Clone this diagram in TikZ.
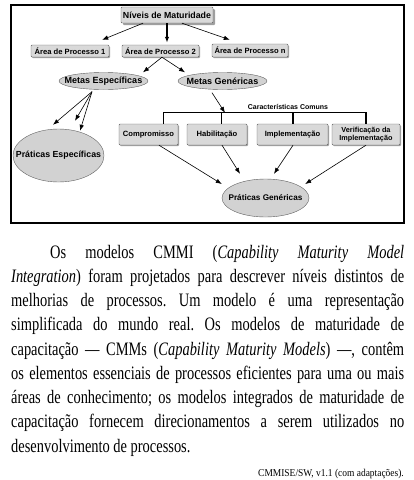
\documentclass[tikz,border=0pt]{standalone}
\usepackage{fontspec}
\setmainfont{Liberation Serif}[FakeStretch=0.76]
\newfontfamily\credfont{Liberation Serif}[FakeStretch=0.9]
\newfontfamily\diagfont{Liberation Sans}
\usetikzlibrary{calc,shapes.geometric,shadows,arrows.meta}

\begin{document}
\begin{tikzpicture}[x=1pt,y=-1pt,
	box/.style={draw=gray!75!black, fill=gray!30, rounded corners=1pt, inner sep=0pt, align=center},
	shd/.style={drop shadow={shadow xshift=#1, shadow yshift=-#1, fill=gray!75, opacity=1}},
	oval/.style={ellipse, draw=gray!75!black, fill=gray!35, inner sep=0pt},
	txt/.style={font=\diagfont\bfseries\fontsize{#1}{#1}\selectfont},
	arr/.style={line width=0.6pt, -{Latex[length=6pt,width=4.5pt]}}]
	\useasboundingbox (0,0) rectangle (414,480);
	\draw[line width=2pt] (11,5) rectangle (404,223);

	% top levels
	\node[box, shd=2pt, minimum width=92pt, minimum height=16pt, txt=8.8] (niv) at (167,15) {Níveis de Maturidade};
	\node[box, shd=1pt, minimum width=78pt, minimum height=12pt, txt=7.6] (ap1) at (70,51) {Área de Processo 1};
	\node[box, shd=1pt, minimum width=77pt, minimum height=12pt, txt=7.6] (ap2) at (160.5,51) {Área de Processo 2};
	\node[box, shd=1pt, minimum width=76pt, minimum height=13pt, txt=7.6] (apn) at (250,50.5) {Área de Processo n};
	\node[oval, minimum width=89pt, minimum height=17pt, txt=9] (me) at (103.5,81) {\makebox[0pt]{Metas Específicas}};
	\node[oval, minimum width=89pt, minimum height=17pt, txt=9] (mg) at (222.5,81) {\makebox[0pt]{Metas Genéricas}};
	\node[oval, minimum width=91pt, minimum height=53pt, txt=8.8] (pe) at (58.5,155.5) {\makebox[0pt]{Práticas Específicas}};

	% common features
	\node[box, shd=1pt, minimum width=59pt, minimum height=21pt, txt=7.6] (comp) at (148.5,134.5) {Compromisso};
	\node[box, shd=1pt, minimum width=60pt, minimum height=21pt, txt=7.6] (hab) at (217,134.5) {Habilitação};
	\node[box, shd=1pt, minimum width=71pt, minimum height=21pt, txt=7.6] (impl) at (292.5,134.5) {Implementação};
	\node[box, shd=1pt, minimum width=68pt, minimum height=21pt, txt=7.3] (verif) at (366,134.5) {Verificação da\\Implementação};
	\node[oval, minimum width=87pt, minimum height=38pt, txt=8.2] (pg) at (265.5,198) {\makebox[0pt]{Práticas Genéricas}};
	\node[txt=7] (cc) at (288,107) {Características Comuns};

	\draw[arr] ([xshift=-24pt]niv.south) -- ($(ap1.north east)+(-7,-5)$);
	\draw[arr, line width=1.5pt] (niv.south) -- ($(niv.south |- ap2.north)+(0,-2)$);
	\draw[arr] ([xshift=15pt]niv.south) -- ($(apn.north west)+(18,-4)$);
	\draw[arr] ([xshift=1.5pt]ap2.south) -- ($(me.north)+(39.5,0)$);
	\draw[arr] ([xshift=1.5pt]ap2.south) -- ($(mg.north)+(-37.5,0)$);

	\coordinate (mes) at ($(me.south)+(-11.5,2)$);
	\draw[arr] (mes) -- ($(pe.north)+(-5.5,-4)$);
	\draw[arr] (mes) -- ($(pe.north)+(16.5,-8)$);
	\draw[arr] (mes) -- ($(pe.north)+(21.5,2)$);

	\draw[line width=1.1pt] ([xshift=15pt]comp.north) |- ($(verif.north)+(0,-11)$) -- (verif.north);
	\draw[line width=1.1pt] ([xshift=4.5pt]hab.north) -- +(0,-11);
	\draw[line width=1.1pt] ([xshift=0.5pt]impl.north) -- +(0,-11);
	\coordinate (ccj) at ($(hab.north)+(8,-11)$);
	\draw[arr] ($(mg.south)+(-10.5,3)$) -- (ccj);

	\draw[arr] ([xshift=10.5pt]comp.south) -- ($(pg.west)+(0,-14)$);
	\draw[arr] ([xshift=5pt]hab.south) -- ($(pg.north)+(-25.5,-5)$);
	\draw[arr] ([xshift=0.5pt]impl.south) -- ($(pg.north)+(8.5,-5)$);
	\draw[arr] (verif.south) -- ($(pg.east)+(-4,-14)$);

	% text below
	\node[anchor=base west, inner sep=0pt, text width=393pt, align=justify, font=\fontsize{19}{24.25}\selectfont\frenchspacing] (par) at (11,258)
	{\hspace*{39pt}Os modelos CMMI (\textit{Capability Maturity Model}\linebreak
	\textit{Integration}) foram projetados para descrever níveis distintos de\linebreak
	melhorias de processos. Um modelo é uma representação\linebreak
	simplificada do mundo real. Os modelos de maturidade de\linebreak
	capacitação — CMMs (\textit{Capability Maturity Models}) —, contêm\linebreak
	os elementos essenciais de processos eficientes para uma ou mais\linebreak
	áreas de conhecimento; os modelos integrados de maturidade de\linebreak
	capacitação fornecem direcionamentos a serem utilizados no\linebreak
	desenvolvimento de processos.};
	\node[anchor=base east, inner sep=0pt, font=\credfont\fontsize{10.5}{12}\selectfont] (cred) at (404,476) {CMMISE/SW, v1.1 (com adaptações).};
\end{tikzpicture}
\end{document}
